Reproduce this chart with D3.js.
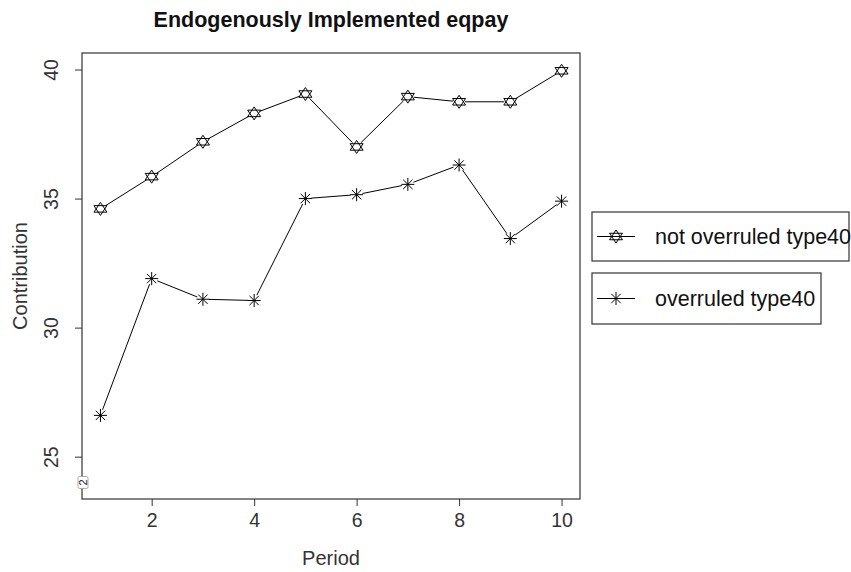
<!DOCTYPE html>
<html>
<head>
<meta charset="utf-8">
<script src="https://cdn.jsdelivr.net/npm/d3@7"></script>
<style>
  html, body { margin: 0; padding: 0; background: #fff; }
  svg { display: block; }
  text { font-family: "Liberation Sans", Arial, Helvetica, sans-serif; }
</style>
</head>
<body>
<div id="chart"></div>
<script>
// ---- data ----
const periods = [1, 2, 3, 4, 5, 6, 7, 8, 9, 10];
const notOverruled = [34.6, 35.85, 37.2, 38.3, 39.05, 37.0, 38.95, 38.75, 38.75, 39.95];
const overruled = [26.6, 31.9, 31.1, 31.05, 35.0, 35.15, 35.55, 36.3, 33.45, 34.9];
const xTicks = [2, 4, 6, 8, 10];
const yTicks = [25, 30, 35, 40];
const seriesNames = ["not overruled type40", "overruled type40"];
const yDataMin = 24, yDataMax = 40;
const titleText = "Endogenously Implemented eqpay";
const xLabel = "Period";
const yLabel = "Contribution";

// ---- layout ----
const W = 851, H = 572;
const plot = { left: 82, right: 580, top: 53, bottom: 499 };

const svg = d3.select("#chart").append("svg").attr("width", W).attr("height", H);

const xPad = (d3.max(periods) - d3.min(periods)) * 0.04;
const yPad = (yDataMax - yDataMin) * 0.04;
const x = d3.scaleLinear().domain([d3.min(periods) - xPad, d3.max(periods) + xPad]).range([plot.left, plot.right]);
const y = d3.scaleLinear().domain([yDataMin - yPad, yDataMax + yPad]).range([plot.bottom, plot.top]);

const ink = "#000";
const frame = "#333";
const textCol = "#333";

// title
svg.append("text").attr("x", (plot.left + plot.right) / 2).attr("y", 27)
  .attr("text-anchor", "middle").attr("font-weight", "bold").attr("font-size", 21.5)
  .attr("fill", "#111").text(titleText);

// axes
const xAxis = svg.append("g").attr("transform", `translate(0,${plot.bottom})`)
  .call(d3.axisBottom(x).tickValues(xTicks).tickSize(7).tickPadding(7).tickSizeOuter(0));
xAxis.select(".domain").remove();
xAxis.selectAll("line").attr("stroke", frame);
xAxis.selectAll("text").attr("font-size", 19.5).attr("fill", textCol).attr("font-family", null);

const yAxis = svg.append("g").attr("transform", `translate(${plot.left},0)`)
  .call(d3.axisLeft(y).tickValues(yTicks).tickSize(7).tickSizeOuter(0));
yAxis.select(".domain").remove();
yAxis.selectAll("line").attr("stroke", frame);
yAxis.selectAll("text").attr("font-size", 19.5).attr("fill", textCol).attr("font-family", null)
  .attr("x", null).attr("dy", null)
  .attr("text-anchor", "middle")
  .attr("transform", "translate(-31,0) rotate(-90)")
  .attr("dy", "0.35em")
  .attr("y", 0);

// box
svg.append("rect").attr("x", plot.left).attr("y", plot.top)
  .attr("width", plot.right - plot.left).attr("height", plot.bottom - plot.top)
  .attr("fill", "none").attr("stroke", frame).attr("stroke-width", 1.2);

// axis titles
svg.append("text").attr("x", (plot.left + plot.right) / 2).attr("y", 565)
  .attr("text-anchor", "middle").attr("font-size", 20).attr("fill", textCol).text(xLabel);
svg.append("text").attr("transform", `translate(27,${(plot.top + plot.bottom) / 2}) rotate(-90)`)
  .attr("text-anchor", "middle").attr("font-size", 20).attr("fill", textCol).text(yLabel);

// small stray label at the lower left of the axis
const stray = svg.append("g").attr("transform", `translate(${x.range()[0] + 1},${y(yDataMin)})`);
stray.append("rect").attr("x", -5).attr("y", -6).attr("width", 10).attr("height", 12)
  .attr("fill", "#fff").attr("stroke", "#999").attr("stroke-width", 0.8).attr("rx", 1.5);
stray.append("text").attr("transform", "rotate(-90)").attr("text-anchor", "middle")
  .attr("dy", "0.35em").attr("font-size", 11).attr("fill", "#222").text("2");

// markers
function starOfDavid(g, cx, cy, s) {
  const r = s / 2;
  const up = [[cx, cy - r], [cx + r, cy + r * 0.5], [cx - r, cy + r * 0.5]];
  const dn = [[cx, cy + r], [cx + r, cy - r * 0.5], [cx - r, cy - r * 0.5]];
  g.append("polygon").attr("points", up.map(p => p.join(",")).join(" "))
    .attr("fill", "none").attr("stroke", ink).attr("stroke-width", 1);
  g.append("polygon").attr("points", dn.map(p => p.join(",")).join(" "))
    .attr("fill", "none").attr("stroke", ink).attr("stroke-width", 1);
}
function asterisk(g, cx, cy, s) {
  const r = s / 2, d = r * 0.72;
  const segs = [[cx - r, cy, cx + r, cy], [cx, cy - r, cx, cy + r],
    [cx - d, cy - d, cx + d, cy + d], [cx - d, cy + d, cx + d, cy - d]];
  segs.forEach(a => g.append("line").attr("x1", a[0]).attr("y1", a[1]).attr("x2", a[2]).attr("y2", a[3])
    .attr("stroke", ink).attr("stroke-width", 1));
}

function drawSeries(vals, markerFn, size) {
  const g = svg.append("g");
  const pts = periods.map((p, i) => [x(p), y(vals[i])]);
  const gap = 6;
  for (let i = 0; i < pts.length - 1; i++) {
    const [x1, y1] = pts[i], [x2, y2] = pts[i + 1];
    const len = Math.hypot(x2 - x1, y2 - y1);
    if (len <= 2 * gap) continue;
    const ux = (x2 - x1) / len, uy = (y2 - y1) / len;
    g.append("line").attr("x1", x1 + ux * gap).attr("y1", y1 + uy * gap)
      .attr("x2", x2 - ux * gap).attr("y2", y2 - uy * gap)
      .attr("stroke", ink).attr("stroke-width", 1);
  }
  pts.forEach(p => markerFn(g, p[0], p[1], size));
}
drawSeries(notOverruled, starOfDavid, 13);
drawSeries(overruled, asterisk, 13);

// legends
const legends = [
  { name: seriesNames[0], marker: starOfDavid, box: [592, 212, 257, 49] },
  { name: seriesNames[1], marker: asterisk, box: [592, 273, 229, 51] }
];
legends.forEach(l => {
  const [bx, by, bw, bh] = l.box;
  const g = svg.append("g");
  g.append("rect").attr("x", bx).attr("y", by).attr("width", bw).attr("height", bh)
    .attr("fill", "#fff").attr("stroke", frame).attr("stroke-width", 1.2);
  const cy = by + bh / 2;
  g.append("line").attr("x1", bx + 5).attr("x2", bx + 43).attr("y1", cy).attr("y2", cy)
    .attr("stroke", ink).attr("stroke-width", 1);
  l.marker(g, bx + 24, cy, 13);
  g.append("text").attr("x", bx + 63).attr("y", cy).attr("dy", "0.35em")
    .attr("font-size", 21.5).attr("fill", "#111").text(l.name);
});
</script>
</body>
</html>
